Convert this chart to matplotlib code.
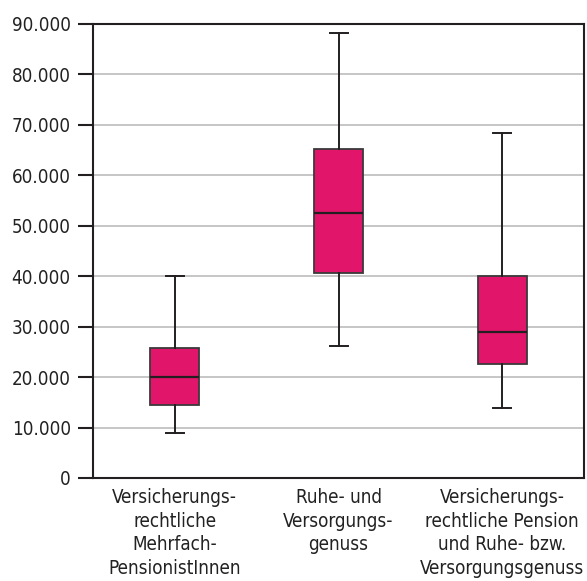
import matplotlib
matplotlib.use('Agg')
import matplotlib.pyplot as plt
from matplotlib.ticker import FuncFormatter, MultipleLocator

# values (EUR)
categories = ['Versicherungs-\nrechtliche\nMehrfach-\nPensionistInnen',
              'Ruhe- und\nVersorgungs-\ngenuss',
              'Versicherungs-\nrechtliche Pension\nund Ruhe- bzw.\nVersorgungsgenuss']
whisker_low = [9000, 26200, 13900]
quartile_1 = [14500, 40600, 22600]
median = [20000, 52600, 29000]
quartile_3 = [25700, 65200, 40000]
whisker_high = [40000, 88200, 68400]

pink = '#E1166B'
dark = '#231F20'

plt.rcParams['font.family'] = ['DejaVu Sans']

stats = []
for lab, lo, q1, med, q3, hi in zip(categories, whisker_low, quartile_1,
                                    median, quartile_3, whisker_high):
    stats.append({'label': lab, 'whislo': lo, 'q1': q1, 'med': med,
                  'q3': q3, 'whishi': hi, 'fliers': []})

fig = plt.figure(figsize=(5.87, 5.81), dpi=100)
ax = fig.add_axes([0.1584, 0.1773, 0.995 - 0.1584, 0.9587 - 0.1773])

ax.bxp(stats, positions=[1, 2, 3], widths=0.3, patch_artist=True,
       showfliers=False,
       boxprops=dict(facecolor=pink, edgecolor='#3a3a3a', linewidth=1.3),
       medianprops=dict(color=dark, linewidth=1.6),
       whiskerprops=dict(color=dark, linewidth=1.4),
       capprops=dict(color=dark, linewidth=1.4),
       capwidths=0.11, zorder=3)

ax.set_xlim(0.5, 3.5)
ax.set_ylim(0, 90000)
ax.yaxis.set_major_locator(MultipleLocator(10000))
ax.yaxis.set_major_formatter(FuncFormatter(lambda v, p: f'{v:,.0f}'.replace(',', '.')))
ax.grid(axis='y', color='#C2C2C2', linewidth=1.3, zorder=0)
ax.set_axisbelow(True)

for s in ax.spines.values():
    s.set_color(dark)
    s.set_linewidth(1.5)

ax.tick_params(axis='y', length=11, width=1.5, color=dark, pad=5,
               labelsize=13.5, labelcolor='#222222')
ax.tick_params(axis='x', length=0, pad=7, labelsize=13.5, labelcolor='#222222')
for t in ax.get_xticklabels():
    t.set_fontstretch('condensed')
    t.set_linespacing(1.32)
for t in ax.get_yticklabels():
    t.set_fontstretch('condensed')

fig.savefig('out.png', dpi=100)
